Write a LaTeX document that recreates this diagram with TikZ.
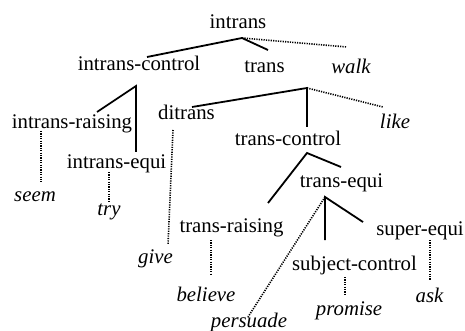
\documentclass[tikz,border=0pt]{standalone}
\usepackage{fontspec}
\setmainfont{Liberation Serif}
\begin{document}
\begin{tikzpicture}[x=1pt,y=-1pt,
  lbl/.style={anchor=base,inner sep=0pt,font=\fontsize{20.8}{24}\selectfont},
  word/.style={lbl,font=\fontsize{20.8}{24}\selectfont\itshape},
  edge/.style={line width=1.8pt},
  dots/.style={line width=1.6pt,dash pattern=on 1.2pt off 1.2pt}]
\useasboundingbox (0,0) rectangle (465,331);
% category nodes
\node[lbl] (intrans) at (238,29) {intrans};
\node[lbl] (ictl) at (139,71) {intrans-control};
\node[lbl] (trans) at (264.5,73) {trans};
\node[word] (walk) at (351,74) {walk};
\node[lbl] (iraise) at (72,129) {intrans-raising};
\node[lbl] (ditrans) at (186.5,120) {ditrans};
\node[word] (like) at (395,129) {like};
\node[lbl] (tctl) at (288,146) {trans-control};
\node[lbl] (iequi) at (116.5,168) {intrans-equi};
\node[word] (seem) at (35,201) {seem};
\node[word] (try) at (109,215) {try};
\node[lbl] (tequi) at (341.5,187) {trans-equi};
\node[lbl] (traise) at (231.5,232) {trans-raising};
\node[lbl] (sequi) at (420,235) {super-equi};
\node[word] (give) at (155.5,263) {give};
\node[lbl] (subj) at (354.5,270) {subject-control};
\node[word] (believe) at (206,301) {believe};
\node[word] (ask) at (429.5,302) {ask};
\node[word] (promise) at (349,315) {promise};
\node[word] (persuade) at (249,327) {persuade};
% junctions and connector ends
\coordinate (j-intrans) at (242,38);
\coordinate (e-ictl) at (147,57);
\coordinate (e-trans) at (268,50);
\coordinate (e-walk) at (347,47);
\coordinate (j-ictl) at (136,86);
\coordinate (e-iraise) at (97,112);
\coordinate (e-iequi) at (136,152);
\coordinate (j-trans) at (307,88);
\coordinate (e-ditrans) at (192,107);
\coordinate (e-tctl) at (307,127);
\coordinate (e-like) at (383,107);
\coordinate (j-tctl) at (307,153);
\coordinate (e-traise) at (268,203);
\coordinate (e-tequi) at (341,167);
\coordinate (j-tequi) at (325,197);
\coordinate (e-subj) at (325,240);
\coordinate (e-sequi) at (363,222);
\coordinate (e-persuade) at (248,317);
\coordinate (s-seem) at (41,131);
\coordinate (e-seem) at (41,182);
\coordinate (s-try) at (109,172);
\coordinate (e-try) at (109,202);
\coordinate (s-give) at (173,130);
\coordinate (e-give) at (168,245);
\coordinate (s-believe) at (211,240);
\coordinate (e-believe) at (211,275);
\coordinate (s-promise) at (345,277);
\coordinate (e-promise) at (345,295);
\coordinate (s-ask) at (430,240);
\coordinate (e-ask) at (430,280);
% solid connectors
\draw[edge] (e-ictl) -- (j-intrans) -- (e-trans);
\draw[edge] (e-iraise) -- (j-ictl) -- (e-iequi);
\draw[edge] (e-ditrans) -- (j-trans) -- (e-tctl);
\draw[edge] (e-traise) -- (j-tctl) -- (e-tequi);
\draw[edge] (e-subj) -- (j-tequi) -- (e-sequi);
% dotted connectors
\draw[dots] (j-intrans) -- (e-walk);
\draw[dots] (j-trans) -- (e-like);
\draw[dots] (j-tequi) -- (e-persuade);
\draw[dots] (s-seem) -- (e-seem);
\draw[dots] (s-try) -- (e-try);
\draw[dots] (s-give) -- (e-give);
\draw[dots] (s-believe) -- (e-believe);
\draw[dots] (s-promise) -- (e-promise);
\draw[dots] (s-ask) -- (e-ask);
\end{tikzpicture}
\end{document}
